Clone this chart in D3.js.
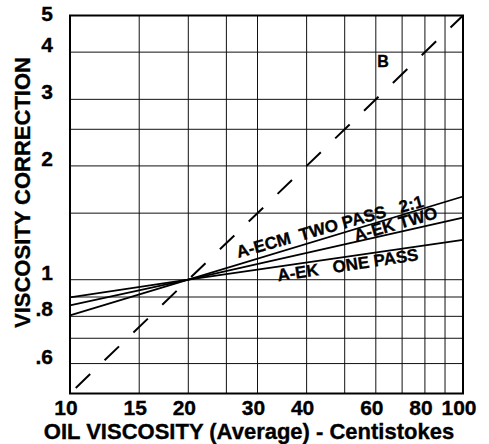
<!DOCTYPE html>
<html>
<head>
<meta charset="utf-8">
<script src="https://cdn.jsdelivr.net/npm/d3@7"></script>
<style>
  html, body { margin: 0; padding: 0; background: #fff; }
  svg { display: block; }
  text { font-family: "Liberation Sans", Arial, sans-serif; font-weight: bold; fill: #000;
         stroke: #000; stroke-width: 0.35px; }
</style>
</head>
<body>
<svg id="chart" width="489" height="444"></svg>
<script>
// Viscosity (centistokes) tick labels on the x axis
const xTickValues = [10, 15, 20, 30, 40, 60, 80, 100];
const xGridValues = [15, 20, 25, 30, 40, 50, 60, 70, 80, 90];
// Correction factor tick labels on the y axis
const yTickValues = [0.6, 0.8, 1, 2, 3, 4, 5];
const yTickText = [".6", ".8", "1", "2", "3", "4", "5"];
const yGridValues = [0.6, 0.7, 0.8, 0.9, 1, 1.5, 2, 2.5, 3, 4];

// Correction curves: [viscosity, correction]
const ecmTwoPass = [[10, 0.805], [20, 1.0], [100, 1.66]];
const ekTwoPass = [[10, 0.855], [20, 1.0], [100, 1.46]];
const ekOnePass = [[10, 0.898], [20, 1.0], [100, 1.275]];
const typeB = [[10, 0.5], [20, 1.0], [100, 5.0]];

const svg = d3.select("#chart");
const plotL = 70, plotR = 463, plotT = 15.5, plotB = 393.5;

const x = d3.scaleLog().domain([10, 100]).range([plotL, plotR]);
const y = d3.scaleLog().domain([0.5, 5]).range([plotB, plotT]);

// grid
const grid = svg.append("g").attr("stroke", "#111").attr("stroke-width", 1);
grid.selectAll("line.v").data(xGridValues).join("line")
  .attr("class", "v")
  .attr("x1", d => x(d)).attr("x2", d => x(d))
  .attr("y1", plotT).attr("y2", plotB);
grid.selectAll("line.h").data(yGridValues).join("line")
  .attr("class", "h")
  .attr("x1", plotL).attr("x2", plotR)
  .attr("y1", d => y(d)).attr("y2", d => y(d));

// curves
const line = d3.line().x(d => x(d[0])).y(d => y(d[1]));
const curves = svg.append("g").attr("fill", "none").attr("stroke", "#000");
[ecmTwoPass, ekTwoPass, ekOnePass].forEach(s => {
  curves.append("path").attr("d", line(s)).attr("stroke-width", 1.8);
});
curves.append("path").attr("d", line(typeB))
  .attr("stroke-width", 2)
  .attr("stroke-dasharray", "20,20")
  .attr("stroke-dashoffset", 32);

// frame
svg.append("rect")
  .attr("x", plotL).attr("y", plotT)
  .attr("width", plotR - plotL).attr("height", plotB - plotT)
  .attr("fill", "none").attr("stroke", "#000").attr("stroke-width", 2);

// x tick labels
svg.append("g").selectAll("text").data(xTickValues).join("text")
  .attr("x", d => x(d) - 4).attr("y", 415)
  .attr("text-anchor", "middle")
  .style("font-size", "21px")
  .text(d => d);

// y tick labels
svg.append("g").selectAll("text").data(yTickValues).join("text")
  .attr("x", 53).attr("y", d => Math.max(y(d), 20.5))
  .attr("text-anchor", "end")
  .style("font-size", "21px")
  .text((d, i) => yTickText[i]);

// axis titles
svg.append("text")
  .attr("x", 249).attr("y", 439)
  .attr("text-anchor", "middle")
  .style("font-size", "22px")
  .text("OIL VISCOSITY (Average) - Centistokes");

svg.append("text")
  .attr("transform", "translate(30,192.5) rotate(-90)")
  .attr("text-anchor", "middle")
  .style("font-size", "22px")
  .text("VISCOSITY CORRECTION");

// curve labels
const labels = [
  { text: "A-ECM  TWO PASS   2:1", at: [26.8, 1.141], angle: -15.5 },
  { text: "A-EK TWO", at: [53.4, 1.262], angle: -16 },
  { text: "A-EK   ONE PASS", at: [33.9, 0.99], angle: -8.6 }
];
svg.append("g").selectAll("text").data(labels).join("text")
  .attr("transform", d => `translate(${x(d.at[0])},${y(d.at[1])}) rotate(${d.angle})`)
  .style("font-size", "17px")
  .style("white-space", "pre")
  .text(d => d.text);

svg.append("text")
  .attr("x", x(62.6)).attr("y", y(3.65))
  .attr("text-anchor", "middle")
  .style("font-size", "16px")
  .text("B");
</script>
</body>
</html>
